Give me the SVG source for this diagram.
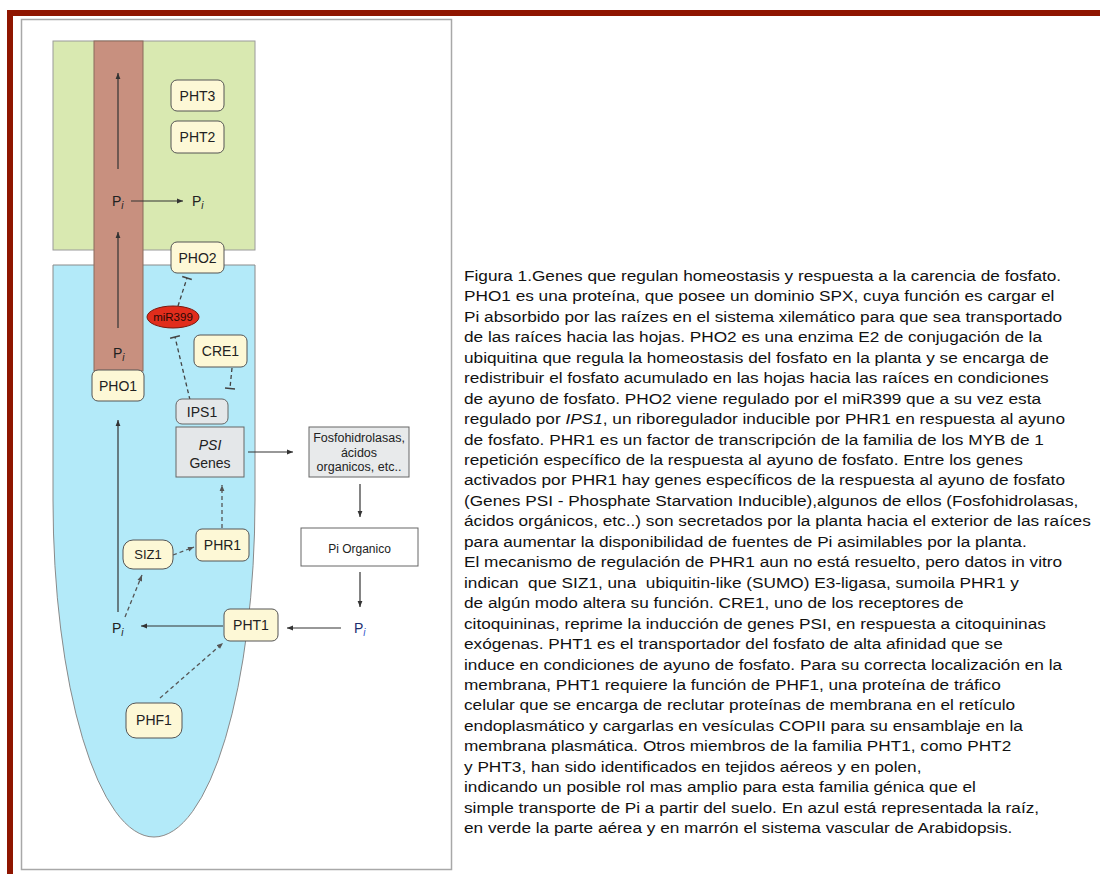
<svg xmlns="http://www.w3.org/2000/svg" width="1100" height="874" viewBox="0 0 1100 874">
<style>
.lbl{font-family:"Liberation Sans",Arial,sans-serif;font-size:14px;fill:#222;text-anchor:middle}
.node{fill:#fdf8d6;stroke:#555;stroke-width:1}
.gnode{fill:#e4e7e9;stroke:#666;stroke-width:1}
.sol{stroke:#333;stroke-width:1.2;fill:none;marker-end:url(#ah)}
.dsh{stroke:#555;stroke-width:1.3;fill:none;stroke-dasharray:4,3;marker-end:url(#ahg)}
.inh{stroke:#444;stroke-width:1.3;fill:none;stroke-dasharray:4,3}
.bar{stroke:#444;stroke-width:1.5}
.pi{font-family:"Liberation Sans",Arial,sans-serif;font-size:14px;fill:#222}
.sub{font-style:italic;font-size:10px}
.para{font-family:"Liberation Sans",Arial,sans-serif;font-size:14px;fill:#111}
</style>
<defs>
<marker id="ah" viewBox="0 0 10 10" refX="10" refY="5" markerWidth="8" markerHeight="6" markerUnits="userSpaceOnUse" orient="auto"><path d="M0,1 L10,5 L0,9 z" fill="#333"/></marker>
<marker id="ahg" viewBox="0 0 10 10" refX="10" refY="5" markerWidth="7" markerHeight="6" markerUnits="userSpaceOnUse" orient="auto"><path d="M0,1 L10,5 L0,9 z" fill="#555"/></marker>
</defs>
<rect x="0" y="0" width="1100" height="874" fill="#ffffff"/>
<!-- red border -->
<rect x="7" y="10" width="1093" height="6" fill="#8f1500"/>
<rect x="7" y="10" width="6" height="864" fill="#8f1500"/>
<!-- frame -->
<rect x="21.5" y="19.5" width="430" height="850" fill="#ffffff" stroke="#a8a8a8" stroke-width="1.5"/>
<!-- tissues -->
<g id="shoot"><rect x="53" y="41" width="202" height="209" fill="#d9e9b1" stroke="#9a9a9a" stroke-width="1"/></g>
<g id="root"><path d="M53,265 H255 V500 A101,337 0 0 1 53,500 Z" fill="#b3eaf9" stroke="#8a8a8a" stroke-width="1"/></g>
<g id="vascular"><rect x="94" y="41" width="49" height="330" fill="#c8907f" stroke="#8a6a5c" stroke-width="1"/></g>

<g id="connectors">
<line class="sol" x1="118" y1="169" x2="118" y2="73"/>
<line class="sol" x1="118" y1="328" x2="118" y2="232"/>
<line class="sol" x1="131" y1="201" x2="183" y2="201"/>
<line class="sol" x1="118" y1="612" x2="118" y2="420"/>
<line class="sol" x1="223" y1="626" x2="141" y2="626"/>
<line class="sol" x1="341" y1="628" x2="287" y2="628"/>
<line class="sol" x1="248" y1="452" x2="293" y2="452"/>
<line class="sol" x1="360" y1="484" x2="360" y2="517"/>
<line class="sol" x1="360" y1="572" x2="360" y2="607"/>
<line class="dsh" x1="222" y1="528" x2="222" y2="485"/>
<line class="dsh" x1="173" y1="555" x2="194" y2="547"/>
<line class="dsh" x1="125" y1="617" x2="142" y2="575"/>
<line class="dsh" x1="160" y1="698" x2="223" y2="643"/>
<line class="inh" x1="178" y1="306" x2="187" y2="278"/>
<line class="bar" x1="182.2" y1="276.5" x2="191.8" y2="279.5"/>
<line class="inh" x1="190" y1="400" x2="175" y2="337"/>
<line class="bar" x1="170.1" y1="338.2" x2="179.9" y2="335.8"/>
<line class="inh" x1="232" y1="368" x2="230" y2="388"/>
<line class="bar" x1="225" y1="388" x2="235" y2="389"/>
</g>

<g id="pi-shoot-xylem"><text class="pi" x="112" y="206">P<tspan class="sub" dy="3">i</tspan></text></g>
<g id="pi-shoot"><text class="pi" x="192" y="206">P<tspan class="sub" dy="3">i</tspan></text></g>
<g id="pi-root-xylem"><text class="pi" x="113" y="358">P<tspan class="sub" dy="3">i</tspan></text></g>
<g id="pi-root"><text class="pi" x="112" y="633">P<tspan class="sub" dy="3">i</tspan></text></g>
<g id="pi-soil"><text class="pi" x="354" y="633" style="fill:#1c2e6e">P<tspan class="sub" dy="3" style="fill:#3355cc">i</tspan></text></g>

<g id="PHT3"><rect class="node" x="171" y="80" width="53" height="31" rx="6"/><text class="lbl" x="197.5" y="101">PHT3</text></g>
<g id="PHT2"><rect class="node" x="171" y="121" width="53" height="32" rx="6"/><text class="lbl" x="197.5" y="142">PHT2</text></g>
<g id="PHO2"><rect class="node" x="171" y="242" width="53" height="31" rx="6"/><text class="lbl" x="197.5" y="263">PHO2</text></g>
<g id="miR399"><ellipse cx="173" cy="317" rx="26" ry="11" fill="#e12d1c" stroke="#7a1a10" stroke-width="1"/><text class="lbl" x="173" y="321" style="font-size:11.5px;fill:#2a0804">miR399</text></g>
<g id="CRE1"><rect class="node" x="194" y="335" width="53" height="32" rx="6"/><text class="lbl" x="220.5" y="356">CRE1</text></g>
<g id="PHO1"><rect class="node" x="92" y="370" width="52" height="31" rx="6"/><text class="lbl" x="118" y="391">PHO1</text></g>
<g id="IPS1"><rect class="gnode" x="176" y="399" width="52" height="25" rx="6"/><text class="lbl" x="202" y="417">IPS1</text></g>
<g id="PSI-Genes"><rect class="gnode" x="176" y="427" width="68" height="50"/><text class="lbl" x="210" y="450" font-style="italic">PSI</text><text class="lbl" x="210" y="468">Genes</text></g>
<g id="Fosfohidrolasas"><rect x="309" y="427" width="100" height="50" fill="#e8eaeb" stroke="#666" stroke-width="1"/>
<text class="lbl" x="359" y="442" style="font-size:12.5px">Fosfohidrolasas,</text>
<text class="lbl" x="359" y="457" style="font-size:12.5px">ácidos</text>
<text class="lbl" x="359" y="471" style="font-size:12.5px">organicos, etc..</text></g>
<g id="Pi-Organico"><rect x="301" y="528" width="117" height="38" fill="#ffffff" stroke="#666" stroke-width="1"/><text class="lbl" x="359.5" y="553" style="font-size:12px">Pi Organico</text></g>
<g id="PHR1"><rect class="node" x="196" y="529" width="53" height="32" rx="6"/><text class="lbl" x="222.5" y="550">PHR1</text></g>
<g id="SIZ1"><rect class="node" x="123" y="540" width="50" height="29" rx="10"/><text class="lbl" x="148" y="559" style="font-size:13px">SIZ1</text></g>
<g id="PHT1"><rect class="node" x="224" y="609" width="54" height="32" rx="6"/><text class="lbl" x="251" y="630">PHT1</text></g>
<g id="PHF1"><rect class="node" x="126" y="703" width="56" height="35" rx="10"/><text class="lbl" x="154" y="725">PHF1</text></g>

<g id="caption" transform="translate(464,0) scale(1.23,1)">
<text class="para" x="0" y="281">Figura 1.Genes que regulan homeostasis y respuesta a la carencia de fosfato.</text>
<text class="para" x="0" y="301.45">PHO1 es una proteína, que posee un dominio SPX, cuya función es cargar el</text>
<text class="para" x="0" y="321.9">Pi absorbido por las raízes en el sistema xilemático para que sea transportado</text>
<text class="para" x="0" y="342.35">de las raíces hacia las hojas. PHO2 es una enzima E2 de conjugación de la</text>
<text class="para" x="0" y="362.8">ubiquitina que regula la homeostasis del fosfato en la planta y se encarga de</text>
<text class="para" x="0" y="383.25">redistribuir el fosfato acumulado en las hojas hacia las raíces en condiciones</text>
<text class="para" x="0" y="403.7">de ayuno de fosfato. PHO2 viene regulado por el miR399 que a su vez esta</text>
<text class="para" x="0" y="424.15">regulado por <tspan font-style="italic">IPS1</tspan>, un riboregulador inducible por PHR1 en respuesta al ayuno</text>
<text class="para" x="0" y="444.6">de fosfato. PHR1 es un factor de transcripción de la familia de los MYB de 1</text>
<text class="para" x="0" y="465.05">repetición específico de la respuesta al ayuno de fosfato. Entre los genes</text>
<text class="para" x="0" y="485.5">activados por PHR1 hay genes específicos de la respuesta al ayuno de fosfato</text>
<text class="para" x="0" y="505.95">(Genes PSI - Phosphate Starvation Inducible),algunos de ellos (Fosfohidrolasas,</text>
<text class="para" x="0" y="526.4">ácidos orgánicos, etc..) son secretados por la planta hacia el exterior de las raíces</text>
<text class="para" x="0" y="546.85">para aumentar la disponibilidad de fuentes de Pi asimilables por la planta.</text>
<text class="para" x="0" y="567.3">El mecanismo de regulación de PHR1 aun no está resuelto, pero datos in vitro</text>
<text class="para" x="0" y="587.75" xml:space="preserve">indican  que SIZ1, una  ubiquitin-like (SUMO) E3-ligasa, sumoila PHR1 y</text>
<text class="para" x="0" y="608.2">de algún modo altera su función. CRE1, uno de los receptores de</text>
<text class="para" x="0" y="628.65">citoquininas, reprime la inducción de genes PSI, en respuesta a citoquininas</text>
<text class="para" x="0" y="649.1">exógenas. PHT1 es el transportador del fosfato de alta afinidad que se</text>
<text class="para" x="0" y="669.55">induce en condiciones de ayuno de fosfato. Para su correcta localización en la</text>
<text class="para" x="0" y="690">membrana, PHT1 requiere la función de PHF1, una proteína de tráfico</text>
<text class="para" x="0" y="710.45">celular que se encarga de reclutar proteínas de membrana en el retículo</text>
<text class="para" x="0" y="730.9">endoplasmático y cargarlas en vesículas COPII para su ensamblaje en la</text>
<text class="para" x="0" y="751.35">membrana plasmática. Otros miembros de la familia PHT1, como PHT2</text>
<text class="para" x="0" y="771.8">y PHT3, han sido identificados en tejidos aéreos y en polen,</text>
<text class="para" x="0" y="792.25">indicando un posible rol mas amplio para esta familia génica que el</text>
<text class="para" x="0" y="812.7">simple transporte de Pi a partir del suelo. En azul está representada la raíz,</text>
<text class="para" x="0" y="833.15">en verde la parte aérea y en marrón el sistema vascular de Arabidopsis.</text>
</g>
</svg>
